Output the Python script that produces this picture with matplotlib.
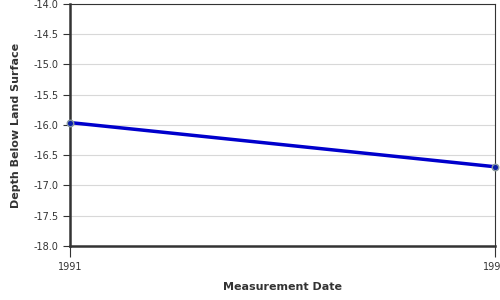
import matplotlib
matplotlib.use("Agg")
import matplotlib.pyplot as plt

x_vals = [0, 1]
depths = [-15.96, -16.69]
x_tick_labels = ["1991", "1991"]
y_ticks = [-14.0, -14.5, -15.0, -15.5, -16.0, -16.5, -17.0, -17.5, -18.0]

fig = plt.figure(figsize=(5, 3), dpi=100)
ax = fig.add_axes([0.14, 0.18, 0.85, 0.8067])

ax.plot(x_vals, depths, color="#0000cc", linewidth=2.5, zorder=3, clip_on=False)
ax.scatter(x_vals, depths, s=22, color="#0a1fa8", edgecolors="#8a9aa0", linewidths=1, zorder=4, clip_on=False)

ax.set_xlim(0, 1)
ax.set_ylim(-18, -14)
ax.set_yticks(y_ticks)
ax.set_yticklabels([f"{v:.1f}" for v in y_ticks])
ax.set_xticks(x_vals)
ax.set_xticklabels(x_tick_labels)

ax.grid(axis="y", color="#d8d8d8", linewidth=0.8)
ax.set_axisbelow(True)

for s in ["left", "bottom"]:
    ax.spines[s].set_linewidth(1.8)
    ax.spines[s].set_color("#333333")
for s in ["top", "right"]:
    ax.spines[s].set_linewidth(0.8)
    ax.spines[s].set_color("#333333")

ax.tick_params(axis="both", labelsize=7, colors="#333333", length=5, width=0.8)
ax.tick_params(axis="x", length=8)

ax.set_xlabel("Measurement Date", fontsize=8, fontweight="bold", color="#333333", labelpad=7)
ax.set_ylabel("Depth Below Land Surface", fontsize=8, fontweight="bold", color="#333333", labelpad=9)

fig.savefig("out.png", dpi=100)
